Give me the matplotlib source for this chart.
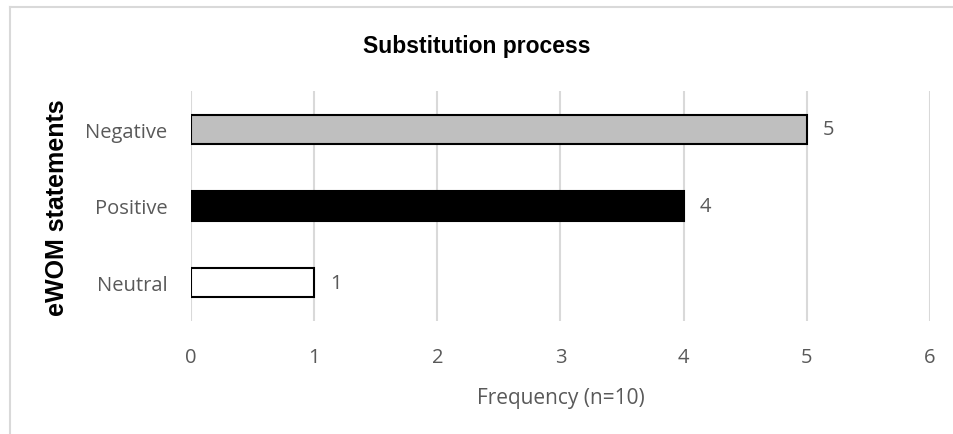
import matplotlib
matplotlib.use("Agg")
import numpy as np
from matplotlib import pyplot as plt
from matplotlib.lines import Line2D

categories = ["Neutral", "Positive", "Negative"]
frequencies = [1, 4, 5]
bar_colors = ["#FFFFFF", "#000000", "#BFBFBF"]
x_ticks = [0, 1, 2, 3, 4, 5, 6]

def main():
    fig = plt.figure(figsize=(9.54, 4.35), dpi=100)
    ax = fig.add_axes([0.2002, 0.2598, 0.7746, 0.5287])

    # outer chart frame (partly cropped in the original)
    grey = "#D9D9D9"
    fig.add_artist(Line2D([10 / 954, 10 / 954], [0, 1 - 8 / 435],
                          transform=fig.transFigure, color=grey, lw=1.5))
    fig.add_artist(Line2D([10 / 954, 1], [1 - 8 / 435, 1 - 8 / 435],
                          transform=fig.transFigure, color=grey, lw=1.5))

    ypos = np.arange(len(categories))
    ax.barh(ypos, frequencies, height=0.38, color=bar_colors,
            edgecolor="black", linewidth=1.5, zorder=3)

    for y, v in zip(ypos, frequencies):
        ax.text(v + 0.13, y, str(v), va="center", ha="left",
                fontsize=14.5, color="#595959", family="Open Sans")

    ax.set_xlim(0, 6)
    ax.set_ylim(-0.5, 2.5)
    ax.set_xticks(x_ticks)
    ax.set_yticks(ypos)
    ax.set_yticklabels(categories)
    ax.grid(axis="x", color=grey, lw=1.5, zorder=0)
    ax.set_axisbelow(True)
    for s in ax.spines.values():
        s.set_visible(False)
    ax.tick_params(length=0, labelsize=14.5, labelcolor="#595959")
    for lab in ax.get_xticklabels() + ax.get_yticklabels():
        lab.set_family("Open Sans")
    ax.tick_params(axis="x", pad=19)
    ax.tick_params(axis="y", pad=17)

    ax.set_xlabel("Frequency (n=10)", fontsize=15, color="#595959",
                  family="Open Sans", labelpad=14)
    fig.text(0.5, 1 - 46 / 435, "Substitution process", ha="center",
             va="center", fontsize=16.5, fontweight="bold",
             family="Liberation Sans")
    fig.text(57 / 954, 1 - 208 / 435, "eWOM statements", ha="center",
             va="center", rotation=90, fontsize=18, fontweight="bold",
             family="Liberation Sans")

    fig.savefig("out.png", dpi=100)

if __name__ == "__main__":
    main()
